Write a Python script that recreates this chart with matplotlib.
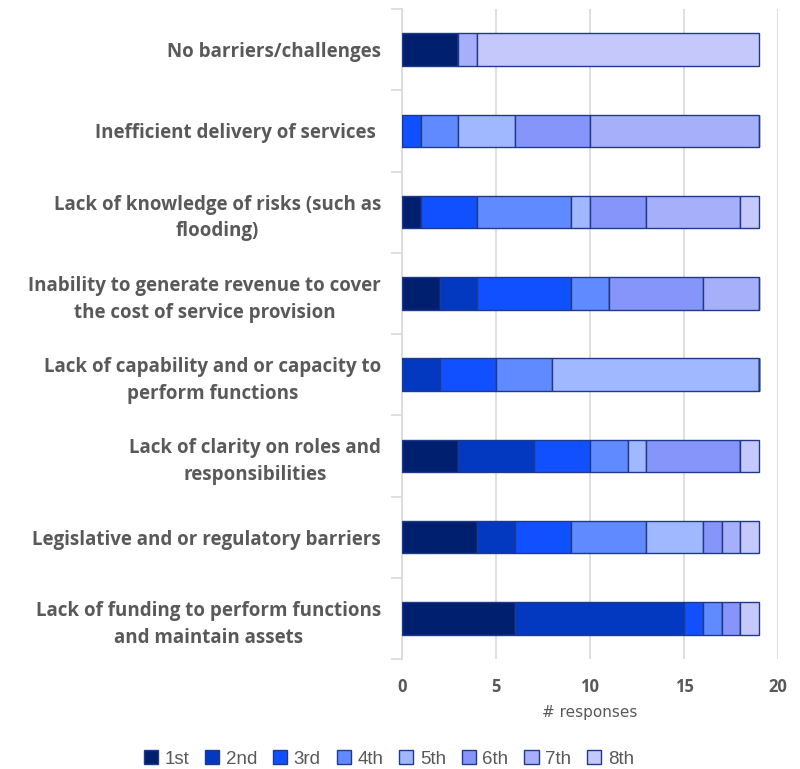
import matplotlib.pyplot as plt
import numpy as np

# категории сверху вниз
categories = [
    'No barriers/challenges',
    'Inefficient delivery of services ',
    'Lack of knowledge of risks (such as\nflooding)',
    'Inability to generate revenue to cover\nthe cost of service provision',
    'Lack of capability and or capacity to\nperform functions',
    'Lack of clarity on roles and\nresponsibilities',
    'Legislative and or regulatory barriers',
    'Lack of funding to perform functions\nand maintain assets',
]
ranks = ['1st', '2nd', '3rd', '4th', '5th', '6th', '7th', '8th']

# число ответов по рангу (строки = категории)
counts = [
    [3, 0, 0, 0, 0, 0, 1, 15],
    [0, 0, 1, 2, 3, 4, 9, 0],
    [1, 0, 3, 5, 1, 3, 5, 1],
    [2, 2, 5, 2, 0, 5, 3, 0],
    [0, 2, 3, 3, 11, 0, 0, 0],
    [3, 4, 3, 2, 1, 5, 0, 1],
    [4, 2, 3, 4, 3, 1, 1, 1],
    [6, 9, 1, 1, 0, 1, 0, 1],
]

colors = ['#00206F', '#0338C0', '#1050FF', '#608AFF',
          '#A0B8FF', '#8595FA', '#A6B0FA', '#C4C8FA']
text_color = '#595959'

data = np.array(counts)
y = np.arange(len(categories))

fig = plt.figure(figsize=(8, 7.69), dpi=100)
ax = fig.add_axes([0.5025, 0.143, 0.47, 0.8453])

left = np.zeros(len(categories))
for i, r in enumerate(ranks):
    ax.barh(y, data[:, i], left=left, height=0.4, color=colors[i],
            edgecolor='#1F3A8A', linewidth=1.0, label=r, zorder=3)
    left += data[:, i]

ax.set_xlim(0, 20)
ax.set_ylim(len(categories) - 0.5, -0.5)
ax.set_xticks([0, 5, 10, 15, 20])
ax.grid(axis='x', color='#D9D9D9', linewidth=1.2, zorder=0)

ax.set_yticks(y)
ax.set_yticklabels(categories, fontsize=13.5, fontweight='bold', color=text_color,
                   family='Open Sans', multialignment='center', linespacing=1.45)
ax.set_yticks(np.arange(-0.5, len(categories)), minor=True)
ax.tick_params(axis='y', which='major', length=0, pad=15)
ax.tick_params(axis='y', which='minor', length=8, color='#D9D9D9', width=1.2)
ax.tick_params(axis='x', length=0, pad=14, labelcolor=text_color, labelsize=12)
for lbl in ax.get_xticklabels():
    lbl.set_fontweight('bold')
    lbl.set_family('Open Sans')

for s in ['top', 'right', 'bottom']:
    ax.spines[s].set_visible(False)
ax.spines['left'].set_color('#D9D9D9')
ax.spines['left'].set_linewidth(1.2)

ax.set_xlabel('# responses', fontsize=11, color=text_color, labelpad=6)

fig.legend(loc='lower center', bbox_to_anchor=(0.486, -0.02), ncol=8, frameon=False,
           prop={'family': 'Liberation Sans', 'size': 13.5},
           handlelength=0.75, handleheight=0.75, handletextpad=0.35,
           columnspacing=0.85, labelcolor=text_color)

fig.savefig('out.png', dpi=100)
